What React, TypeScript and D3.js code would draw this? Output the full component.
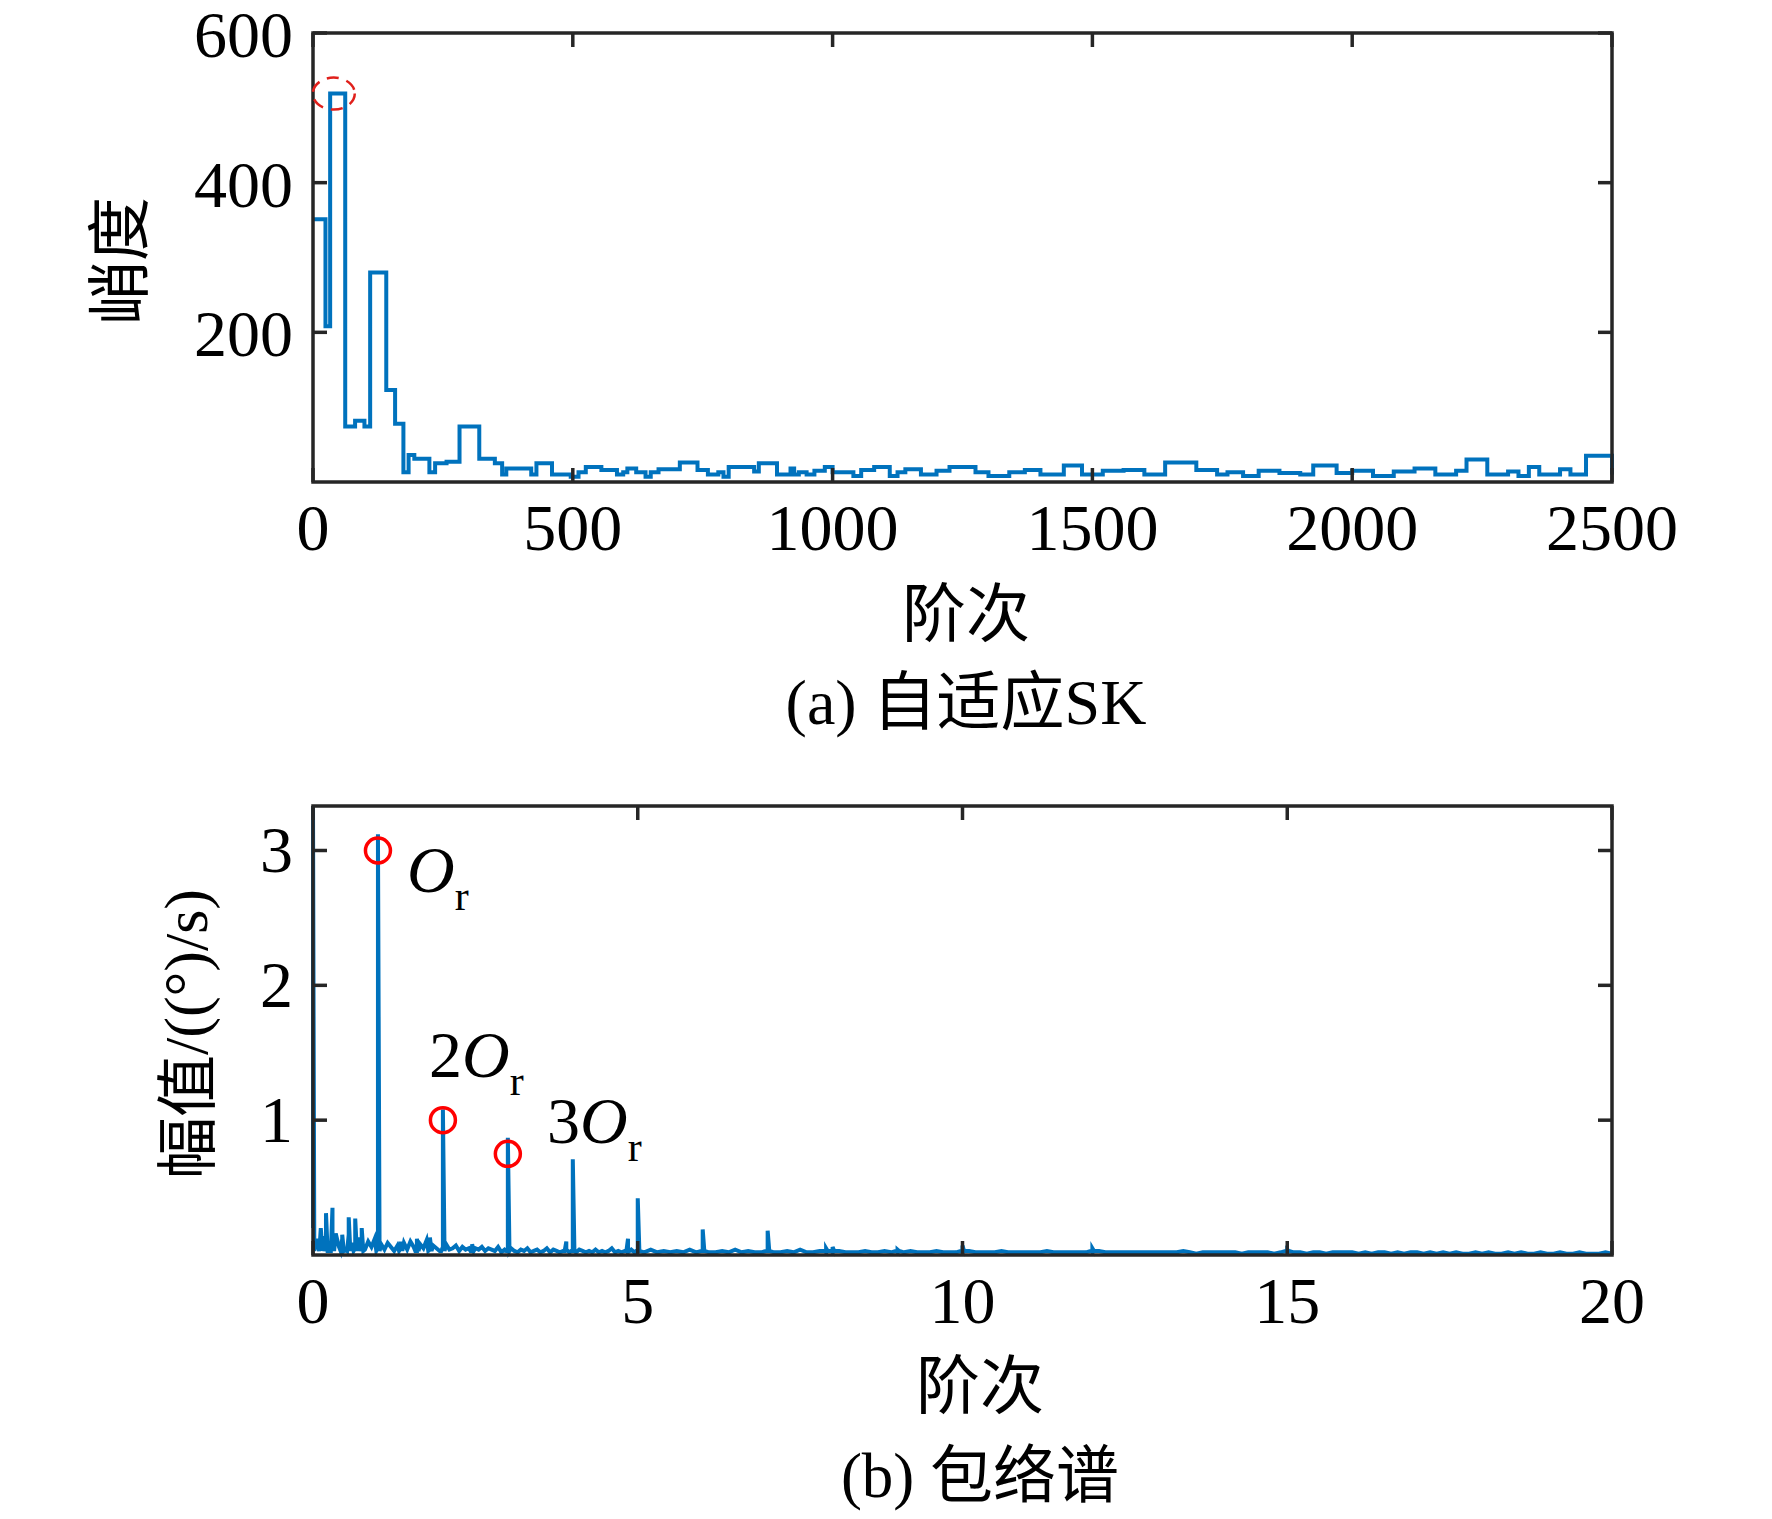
import * as d3 from 'd3'

// (a) adaptive SK — step values (order, kurtosis)
const SK_X = [0, 7, 24, 33, 57, 62, 81, 92, 99, 110, 137, 141, 151, 158, 169, 174, 184, 195, 215, 224, 235, 257, 282, 315, 320, 335, 350, 364, 372, 420, 430, 452, 460, 496, 511, 525, 537, 555, 565, 585, 597, 605, 622, 640, 650, 665, 675, 706, 731, 740, 760, 780, 790, 800, 827, 849, 858, 880, 893, 919, 926, 935, 950, 965, 985, 1000, 1040, 1055, 1080, 1110, 1125, 1140, 1170, 1200, 1225, 1250, 1275, 1300, 1340, 1370, 1400, 1445, 1460, 1480, 1520, 1560, 1600, 1640, 1660, 1700, 1740, 1760, 1790, 1820, 1860, 1900, 1925, 1945, 1970, 2000, 2040, 2080, 2120, 2160, 2200, 2220, 2240, 2260, 2300, 2320, 2340, 2360, 2400, 2420, 2450, 2490, 2500]
const SK_Y = [351, 351, 208, 519, 519, 74, 82, 82, 74, 280, 280, 123, 123, 78, 78, 13, 36, 31, 31, 13, 25, 27, 74, 74, 31, 31, 25, 10, 18, 10, 25, 25, 10, 7, 13, 20, 20, 16, 16, 10, 13, 18, 13, 7, 13, 17, 17, 26, 26, 16, 10, 13, 7, 20, 20, 14, 25, 25, 10, 18, 10, 13, 10, 15, 20, 13, 8, 16, 20, 8, 13, 17, 10, 15, 20, 20, 13, 8, 13, 16, 10, 22, 22, 10, 15, 16, 10, 26, 26, 16, 10, 13, 8, 15, 12, 10, 22, 22, 12, 15, 8, 14, 18, 10, 15, 30, 30, 10, 14, 8, 20, 10, 17, 10, 35, 35, 10]

// (b) envelope spectrum — baseline noise, 0.05 steps on 0–5
const ENV_LOW = [
  0.2, 0.12, 0.05, 0.14, 0.08, 0.03, 0.1, 0.16, 0.06, 0.12, 0.04, 0.15, 0.09, 0.05, 0.13, 0.07, 0.04, 0.1, 0.06, 0.12,
  0.05, 0.08, 0.04, 0.09, 0.06, 0.03, 0.07, 0.05, 0.09, 0.04, 0.1, 0.06, 0.03, 0.08, 0.05, 0.11, 0.04, 0.07, 0.05, 0.03,
  0.06, 0.08, 0.04, 0.05, 0.07, 0.03, 0.06, 0.04, 0.05, 0.03, 0.05, 0.04, 0.06, 0.03, 0.05, 0.04, 0.03, 0.06, 0.02, 0.04,
  0.03, 0.05, 0.03, 0.02, 0.04, 0.03, 0.05, 0.02, 0.03, 0.04, 0.02, 0.03, 0.05, 0.02, 0.04, 0.03, 0.02, 0.03, 0.04, 0.02,
  0.03, 0.02, 0.04, 0.03, 0.02, 0.03, 0.02, 0.04, 0.02, 0.03, 0.02, 0.03, 0.05, 0.02, 0.03, 0.02, 0.03, 0.02, 0.04, 0.02,
]
// 0.1 steps on 5–20
const ENV_HIGH = [
  0.03, 0.02, 0.04, 0.02, 0.03, 0.02, 0.03, 0.02, 0.04, 0.02, 0.03, 0.02, 0.02, 0.03, 0.02, 0.04, 0.02, 0.03, 0.02, 0.02,
  0.03, 0.02, 0.02, 0.03, 0.02, 0.04, 0.02, 0.02, 0.03, 0.02, 0.02, 0.03, 0.02, 0.02, 0.02, 0.03, 0.02, 0.02, 0.03, 0.02,
  0.02, 0.02, 0.03, 0.02, 0.02, 0.02, 0.03, 0.02, 0.02, 0.02, 0.02, 0.03, 0.02, 0.02, 0.02, 0.02, 0.03, 0.02, 0.02, 0.02,
  0.02, 0.02, 0.02, 0.03, 0.02, 0.02, 0.02, 0.02, 0.02, 0.02, 0.02, 0.03, 0.02, 0.02, 0.02, 0.02, 0.02, 0.02, 0.02, 0.02,
  0.02, 0.02, 0.02, 0.02, 0.03, 0.02, 0.01, 0.02, 0.02, 0.02, 0.02, 0.02, 0.02, 0.01, 0.02, 0.02, 0.02, 0.02, 0.01, 0.02,
  0.02, 0.02, 0.02, 0.01, 0.02, 0.02, 0.01, 0.02, 0.02, 0.02, 0.02, 0.01, 0.02, 0.01, 0.02, 0.02, 0.01, 0.02, 0.01, 0.02,
  0.02, 0.01, 0.02, 0.01, 0.02, 0.01, 0.02, 0.01, 0.01, 0.02, 0.01, 0.02, 0.01, 0.01, 0.02, 0.01, 0.02, 0.01, 0.01, 0.02,
  0.01, 0.01, 0.02, 0.01, 0.01, 0.02, 0.01, 0.01, 0.01, 0.02, 0.01,
]
const PEAK_F = [0, 0.12, 0.2, 0.3, 0.45, 0.55, 0.65, 0.75, 1, 1.35, 1.6, 1.8, 2, 2.45, 3, 3.9, 4, 4.85, 5, 6, 7, 7.9, 8, 9, 10, 12, 15]
const PEAK_A = [3.35, 0.2, 0.31, 0.35, 0.15, 0.28, 0.27, 0.2, 3.12, 0.1, 0.12, 0.13, 1.08, 0.08, 0.87, 0.1, 0.71, 0.12, 0.42, 0.19, 0.18, 0.05, 0.06, 0.04, 0.07, 0.05, 0.04]

const MARK_F = [1, 2, 3]
const MARK_A = [3, 1, 0.75]

const BLUE = '#0072BD'
const AX = '#262626'
const SERIF = '"Liberation Serif", "Times New Roman", serif'
const CJK = '"Noto Sans CJK SC", sans-serif'

const W = 1772
const H = 1519
const L = 313
const R = 1612
const TOP_A = 33
const BOT_A = 482
const TOP_B = 806
const BOT_B = 1255

function envelope(): [number, number][] {
  const pts: [number, number][] = [
    ...ENV_LOW.map((v, i) => [i * 0.05, v] as [number, number]),
    ...ENV_HIGH.map((v, i) => [5 + i * 0.1, v] as [number, number]),
  ]
  PEAK_F.forEach((f, i) => {
    const w = f === 0 ? 0.02 : 0.025
    if (f > 0) pts.push([f - w, 0.03])
    pts.push([f, PEAK_A[i]])
    pts.push([f + w, 0.03])
  })
  return pts.sort((a, b) => a[0] - b[0])
}

function Frame({ x, y, xt, yt, top, bot }: any) {
  const tl = 14
  return (
    <g stroke={AX} strokeWidth={3.5} fill="none">
      <rect x={L} y={top} width={R - L} height={bot - top} />
      {xt.map((t: number) => (
        <g key={'x' + t}>
          <line x1={x(t)} x2={x(t)} y1={bot} y2={bot - tl} />
          <line x1={x(t)} x2={x(t)} y1={top} y2={top + tl} />
        </g>
      ))}
      {yt.map((t: number) => (
        <g key={'y' + t}>
          <line x1={L} x2={L + tl} y1={y(t)} y2={y(t)} />
          <line x1={R} x2={R - tl} y1={y(t)} y2={y(t)} />
        </g>
      ))}
    </g>
  )
}

export default function App() {
  const xa = d3.scaleLinear().domain([0, 2500]).range([L, R])
  const ya = d3.scaleLinear().domain([0, 600]).range([BOT_A, TOP_A])
  const xb = d3.scaleLinear().domain([0, 20]).range([L, R])
  const yb = d3.scaleLinear().domain([0, 3.33]).range([BOT_B, TOP_B])

  const skPts: [number, number][] = SK_X.map((v, i) => [v, SK_Y[i]])
  const skLine = d3.line<[number, number]>().x(d => xa(d[0])).y(d => ya(d[1])).curve(d3.curveStepAfter)(skPts) || ''
  const envLine = d3.line<[number, number]>().x(d => xb(d[0])).y(d => yb(Math.min(d[1], 3.33)))(envelope()) || ''

  const xtA = [0, 500, 1000, 1500, 2000, 2500]
  const ytA = [200, 400, 600]
  const xtB = [0, 5, 10, 15, 20]
  const ytB = [1, 2, 3]
  const fs = 66

  return (
    <svg width={W} height={H} style={{ position: 'absolute', left: 0, top: 0, background: '#fff' }}>
      {/* (a) */}
      <path d={skLine} fill="none" stroke={BLUE} strokeWidth={4} />
      <Frame x={xa} y={ya} xt={xtA} yt={ytA} top={TOP_A} bot={BOT_A} />
      <ellipse cx={xa(40)} cy={ya(519)} rx={21} ry={16} fill="none" stroke="#e0201b" strokeWidth={2.5} strokeDasharray="12 8" />
      <g fontFamily={SERIF} fontSize={fs} fill="#000">
        {xtA.map(t => (
          <text key={t} x={xa(t)} y={BOT_A + 68} textAnchor="middle">{t}</text>
        ))}
        {ytA.map(t => (
          <text key={t} x={L - 20} y={ya(t) + 24} textAnchor="end">{t}</text>
        ))}
      </g>
      <text x={125} y={261} transform="rotate(-90 125 261)" textAnchor="middle" dominantBaseline="middle" fontFamily={CJK} fontSize={64}>峭度</text>
      <text x={966} y={636} textAnchor="middle" fontFamily={CJK} fontSize={64}>阶次</text>
      <text x={966} y={724} textAnchor="middle" fontSize={64}>
        <tspan fontFamily={SERIF}>(a) </tspan>
        <tspan fontFamily={CJK}>自适应</tspan>
        <tspan fontFamily={SERIF}>SK</tspan>
      </text>

      {/* (b) */}
      <path d={envLine} fill="none" stroke={BLUE} strokeWidth={4} />
      <Frame x={xb} y={yb} xt={xtB} yt={ytB} top={TOP_B} bot={BOT_B} />
      {MARK_F.map((f, i) => (
        <circle key={f} cx={xb(f)} cy={yb(MARK_A[i])} r={12.5} fill="none" stroke="#ff0000" strokeWidth={3.5} />
      ))}
      <g fontFamily={SERIF} fontSize={fs} fill="#000">
        {xtB.map(t => (
          <text key={t} x={xb(t)} y={BOT_B + 68} textAnchor="middle">{t}</text>
        ))}
        {ytB.map(t => (
          <text key={t} x={L - 20} y={yb(t) + 22} textAnchor="end">{t}</text>
        ))}
        <text x={407} y={892}><tspan fontStyle="italic">O</tspan><tspan fontSize={42} dy={18}>r</tspan></text>
        <text x={429} y={1077}>2<tspan fontStyle="italic">O</tspan><tspan fontSize={42} dy={18}>r</tspan></text>
        <text x={547} y={1143}>3<tspan fontStyle="italic">O</tspan><tspan fontSize={42} dy={18}>r</tspan></text>
      </g>
      <text x={193} y={1034} transform="rotate(-90 193 1034)" textAnchor="middle" dominantBaseline="middle" fontSize={62}>
        <tspan fontFamily={CJK}>幅值</tspan>
        <tspan fontFamily={SERIF}>/((°)/s)</tspan>
      </text>
      <text x={980} y={1408} textAnchor="middle" fontFamily={CJK} fontSize={64}>阶次</text>
      <text x={980} y={1497} textAnchor="middle" fontSize={63}>
        <tspan fontFamily={SERIF}>(b) </tspan>
        <tspan fontFamily={CJK}>包络谱</tspan>
      </text>
    </svg>
  )
}
